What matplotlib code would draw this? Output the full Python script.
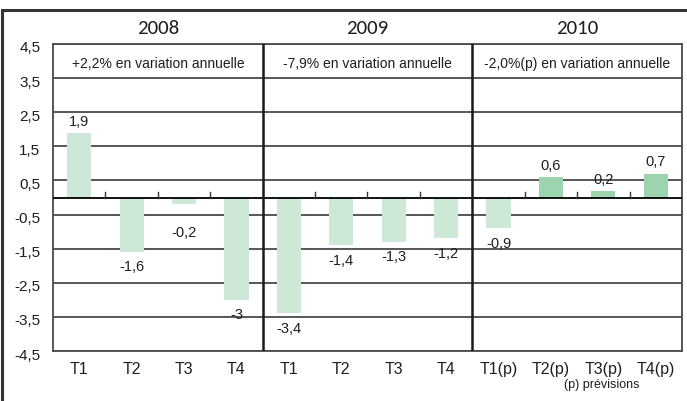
import matplotlib.pyplot as plt
import matplotlib.transforms as mtransforms
from matplotlib.patches import Rectangle
import numpy as np

# Quarterly GDP variation (%)
quarters = ['T1', 'T2', 'T3', 'T4', 'T1', 'T2', 'T3', 'T4',
            'T1(p)', 'T2(p)', 'T3(p)', 'T4(p)']
values = [1.9, -1.6, -0.2, -3.0, -3.4, -1.4, -1.3, -1.2, -0.9, 0.6, 0.2, 0.7]
value_labels = ['1,9', '-1,6', '-0,2', '-3', '-3,4', '-1,4', '-1,3', '-1,2',
                '-0,9', '0,6', '0,2', '0,7']
years = ['2008', '2009', '2010']
annual = ['+2,2% en variation annuelle', '-7,9% en variation annuelle',
          '-2,0%(p) en variation annuelle']
yticks = [4.5, 3.5, 2.5, 1.5, 0.5, -0.5, -1.5, -2.5, -3.5, -4.5]

LIGHT = '#cde8d7'
DARK = '#9dd4b0'
GRID = '#4a4a4a'
TXT = '#1e1e1e'

plt.rcParams['font.family'] = ['Liberation Sans', 'DejaVu Sans']

fig = plt.figure(figsize=(6.87, 4.01), dpi=100)
ax = fig.add_axes([53 / 687, 1 - 351 / 401, 629 / 687, 307 / 401])

x = np.arange(len(values))
colors = [DARK if (i >= 8 and v > 0) else LIGHT for i, v in enumerate(values)]
ax.bar(x, values, width=0.46, color=colors, zorder=2)

# horizontal grid
for y in yticks:
    ax.axhline(y, color=GRID, lw=1.3, zorder=1)
ax.axhline(0, color='black', lw=1.3, zorder=3)

# group separators
for s in (3.5, 7.5):
    ax.axvline(s, color='#1a1a1a', lw=1.8, zorder=3)

# small ticks on the zero line between quarters
for b in np.arange(0.5, len(values) - 0.5, 1.0):
    if b in (3.5, 7.5):
        continue
    ax.plot([b, b], [0, 0.15], color='#333333', lw=1.0, zorder=3)

# value labels
for xi, v, lab in zip(x, values, value_labels):
    if v >= 0:
        ax.annotate(lab, (xi, v), xytext=(0, 3), textcoords='offset points',
                    ha='center', va='bottom', fontsize=10.5, color=TXT)
    else:
        ax.annotate(lab, (xi, min(v, -0.6)), xytext=(0, -6), textcoords='offset points',
                    ha='center', va='top', fontsize=10.5, color=TXT)

# annual annotations in the top band
for g, txt in enumerate(annual):
    ax.text(g * 4 + 1.5, 3.92, txt, ha='center', va='center', fontsize=10,
            color=TXT)

ax.set_xlim(-0.5, len(values) - 0.5)
ax.set_ylim(-4.5, 4.5)
ax.set_yticks(yticks)
ax.set_yticklabels([f'{t:.1f}'.replace('.', ',') for t in yticks],
                   fontsize=11, color=TXT)
ax.set_xticks(x)
ax.set_xticklabels(quarters, fontsize=11.5, color=TXT)
ax.tick_params(length=0)
ax.tick_params(axis='x', pad=8)
ax.tick_params(axis='y', pad=9)
for lbl in ax.get_yticklabels():
    lbl.set_transform(lbl.get_transform() +
                      mtransforms.ScaledTranslation(0, -3 / 100, fig.dpi_scale_trans))
for sp in ax.spines.values():
    sp.set_color(GRID)
    sp.set_linewidth(1.3)

# year headers
for g, yr in enumerate(years):
    ax.annotate(yr, (g * 4 + 1.5, 4.5), xytext=(0, 5), textcoords='offset points',
                ha='center', va='bottom', fontsize=15, color=TXT,
                family=['Carlito', 'Liberation Sans'])

fig.text(602 / 687, 1 - 385 / 401, '(p) prévisions', ha='center', va='center',
         fontsize=9, color=TXT)

# outer frame (left and top)
fig.patches.append(Rectangle((2 / 687, -0.05), 1.1, 1.05 - 10 / 401,
                             transform=fig.transFigure, fill=False,
                             edgecolor='#333333', lw=2.2))

fig.savefig('out.png', dpi=100)
